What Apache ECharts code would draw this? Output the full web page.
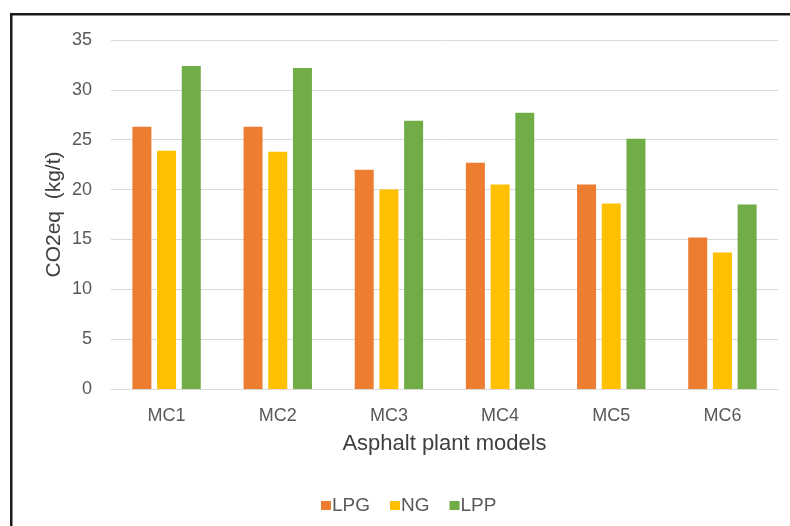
<!DOCTYPE html>
<html>
<head>
<meta charset="utf-8">
<script src="https://cdn.jsdelivr.net/npm/echarts@6/dist/echarts.min.js"></script>
<style>
  html, body { margin: 0; padding: 0; background: #fff; }
  #chart { width: 790px; height: 526px; }
</style>
</head>
<body>
<div id="chart"></div>
<script>
// CO2eq emissions per tonne of asphalt, by plant model and fuel type
const categories = ['MC1', 'MC2', 'MC3', 'MC4', 'MC5', 'MC6'];
const lpg = [26.3, 26.3, 22.0, 22.7, 20.5, 15.2];
const ng  = [23.9, 23.8, 20.0, 20.5, 18.6, 13.7];
const lpp = [32.4, 32.2, 26.9, 27.7, 25.1, 18.5];
const yTicks = { min: 0, max: 35, interval: 5 };

const font = '"Liberation Sans", Arial, sans-serif';
const chart = echarts.init(document.getElementById('chart'));

function barSeries(name, data, color) {
  return {
    name: name,
    type: 'bar',
    data: data,
    barWidth: 19,
    barGap: '30%',
    itemStyle: { color: color },
    emphasis: { disabled: true }
  };
}

chart.setOption({
  animation: false,
  backgroundColor: '#ffffff',
  textStyle: { fontFamily: font },
  graphic: [
    // frame lines along the top and left
    { type: 'rect', shape: { x: 10, y: 13, width: 780, height: 2.5 }, style: { fill: '#1a1a1a' } },
    { type: 'rect', shape: { x: 10, y: 13, width: 2.5, height: 513 }, style: { fill: '#1a1a1a' } }
  ],
  grid: { left: 111, right: 12, top: 40, bottom: 137 },
  legend: {
    data: ['LPG', 'NG', 'LPP'],
    top: 491,
    left: 316,
    itemWidth: 10,
    itemHeight: 9,
    itemGap: 20,
    icon: 'rect',
    textStyle: { fontFamily: font, fontSize: 19, color: '#595959', padding: [0, 0, 0, -4] }
  },
  xAxis: {
    type: 'category',
    data: categories,
    name: 'Asphalt plant models',
    nameLocation: 'middle',
    nameGap: 44,
    nameMoveOverlap: false,
    nameTextStyle: { fontFamily: font, fontSize: 22, color: '#404040' },
    axisLine: { lineStyle: { color: '#d9d9d9', width: 1 } },
    axisTick: { show: false },
    axisLabel: { fontFamily: font, fontSize: 18, color: '#595959', margin: 18 }
  },
  yAxis: {
    type: 'value',
    min: yTicks.min,
    max: yTicks.max,
    interval: yTicks.interval,
    name: 'CO2eq  (kg/t)',
    nameLocation: 'middle',
    nameGap: 46,
    nameMoveOverlap: false,
    nameTextStyle: { fontFamily: font, fontSize: 21, color: '#404040' },
    axisLine: { show: false },
    axisTick: { show: false },
    axisLabel: { fontFamily: font, fontSize: 18, color: '#595959', margin: 19 },
    splitLine: { lineStyle: { color: '#d9d9d9', width: 1 } }
  },
  series: [
    barSeries('LPG', lpg, '#ed7d31'),
    barSeries('NG', ng, '#ffc000'),
    barSeries('LPP', lpp, '#70ad47')
  ]
});
</script>
</body>
</html>
